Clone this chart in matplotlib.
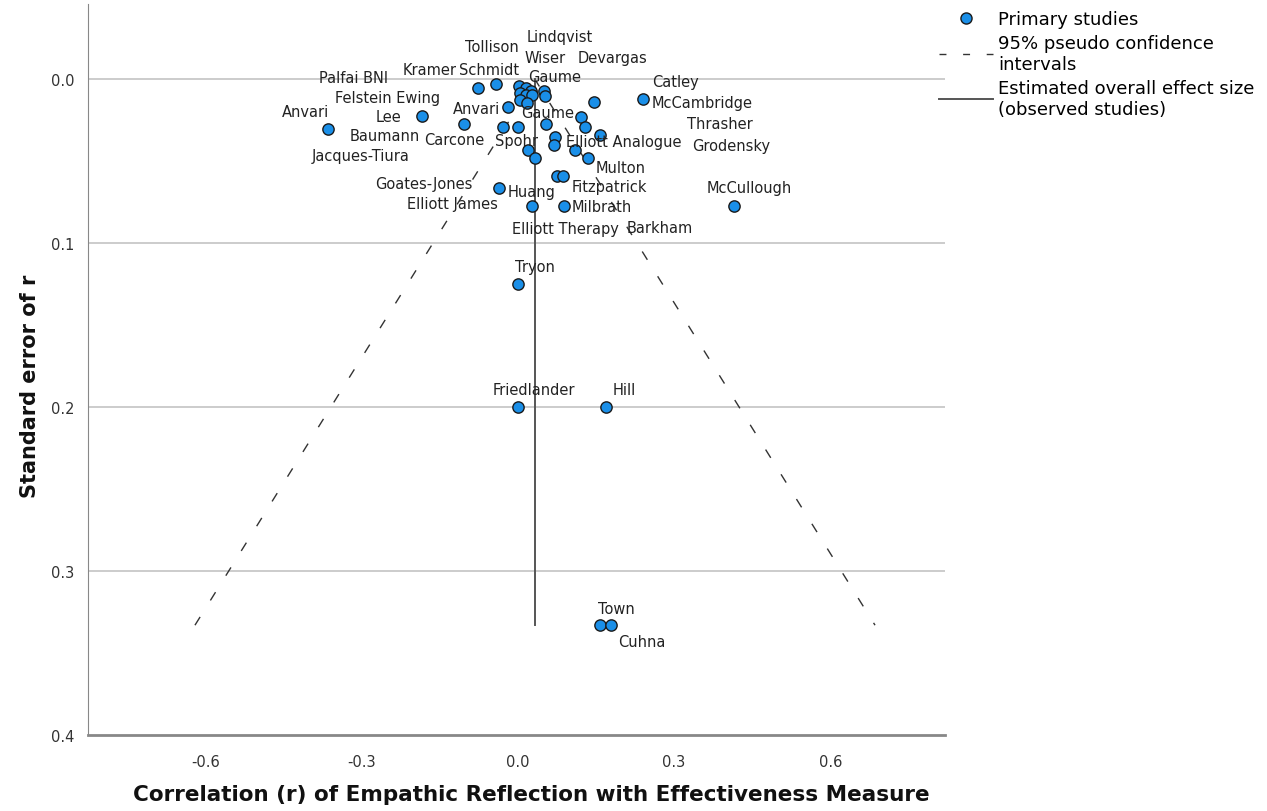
import matplotlib
matplotlib.use('Agg')
import matplotlib.pyplot as plt
from matplotlib.lines import Line2D

# study correlations (r) and their standard errors
r = [-0.365, -0.077, -0.042, -0.184, -0.104, -0.019, -0.029, 0.0, -0.036,
     0.002, 0.015, 0.025, 0.004, 0.015, 0.027, 0.004, 0.017, 0.050, 0.052,
     0.146, 0.240, 0.054, 0.121, 0.129, 0.157, 0.071, 0.069, 0.109, 0.019,
     0.033, 0.134, 0.075, 0.086, 0.027, 0.088, 0.415, 0.0, 0.0, 0.169,
     0.157, 0.179]
se = [0.0305, 0.0055, 0.003, 0.0226, 0.027, 0.017, 0.029, 0.029, 0.066,
      0.0043, 0.005, 0.0073, 0.0085, 0.0098, 0.0098, 0.0128, 0.0146, 0.0073, 0.0104,
      0.014, 0.012, 0.027, 0.023, 0.029, 0.034, 0.035, 0.040, 0.043, 0.043,
      0.048, 0.048, 0.059, 0.059, 0.077, 0.077, 0.077, 0.125, 0.200, 0.200,
      0.333, 0.333]
names = ["Anvari", "Kramer", "Tollison", "Lee", "Carcone", "Anvari", "Baumann", "Spohr", "Huang",
         "Wiser", "Lindqvist", "Schmidt", "", "Felstein Ewing", "", "Palfai BNI", "Gaume", "Devargas", "Gaume",
         "Catley", "McCambridge", "Goates-Jones", "Thrasher", "Elliott James", "Grodensky", "Elliott Analogue",
         "Barkham", "", "Jacques-Tiura", "", "Multon", "", "Fitzpatrick", "Elliott Therapy", "Milbrath",
         "McCullough", "Tryon", "Friedlander", "Hill", "Town", "Cuhna"]

# label placement (pixel offsets from the point), layout only
label_off = [(-22, 18), (-48, 19), (-4, 38), (-33, 0), (-9, -16), (-31, -1), (-118, -9), (-1, -14), (33, -4),
             (26, 29), (34, 51), (-42, 22), (0, 0), (-138, -2), (0, 0), (-166, 23), (21, -9), (69, 34), (10, 20),
             (82, 21), (59, -3), (-122, -60), (139, -6), (-133, -77), (132, -10), (69, -5),
             (106, -83), (0, 0), (-167, -6), (0, 0), (33, -9), (0, 0), (47, -10), (34, -23), (38, -1),
             (15, 18), (17, 18), (16, 18), (18, 18), (17, 17), (31, -16)]

effect = 0.033
se_max = 0.333

fig = plt.figure(figsize=(12.67, 8.12), dpi=100)
ax = fig.add_axes([88 / 1267, 1 - 736 / 812, (945 - 88) / 1267, (736 - 5) / 812])

ax.set_xlim(-0.825, 0.82)
ax.set_ylim(0.4, -0.046)

for g in [0.0, 0.1, 0.2, 0.3]:
    ax.axhline(g, color='#c8c8c8', lw=1.3, zorder=0)

# funnel
ax.plot([effect - 1.96 * se_max, effect, effect + 1.96 * se_max], [se_max, 0, se_max],
        color='#333333', lw=1, dashes=(7, 14), zorder=1)
ax.plot([effect, effect], [0, se_max], color='#555555', lw=1.4, zorder=1)

ax.scatter(r, se, s=66, color='#1a8fe8', edgecolors='#1a1a1a', linewidths=1, zorder=3)

for x, y, nm, off in zip(r, se, names, label_off):
    if nm:
        ax.annotate(nm, (x, y), xytext=off, textcoords='offset pixels',
                    ha='center', va='center', fontsize=10.5, color='#222222', zorder=4)

ax.set_xticks([-0.6, -0.3, 0.0, 0.3, 0.6])
ax.set_xticklabels(['-0.6', '-0.3', '0.0', '0.3', '0.6'])
ax.set_yticks([0.0, 0.1, 0.2, 0.3, 0.4])
ax.set_yticklabels(['0.0', '0.1', '0.2', '0.3', '0.4'])
ax.tick_params(length=0, labelsize=10.5, colors='#333333', pad=10)
ax.tick_params(axis='x', pad=14)

for s in ['top', 'right']:
    ax.spines[s].set_visible(False)
ax.spines['left'].set_color('#888888')
ax.spines['bottom'].set_color('#888888')
ax.spines['bottom'].set_linewidth(2)

lab_font = ['DejaVu Sans Condensed', 'Liberation Sans Narrow', 'DejaVu Sans']
fig.text(531 / 1267, 1 - 795 / 812, 'Correlation (r) of Empathic Reflection with Effectiveness Measure',
         ha='center', va='center', fontsize=15.5, fontweight='bold', family=lab_font, color='#111111')
fig.text(30 / 1267, 1 - 386 / 812, 'Standard error of r', rotation=90,
         ha='center', va='center', fontsize=15, fontweight='bold', family=lab_font, color='#111111')

handles = [
    Line2D([], [], ls='none', marker='o', markersize=8, markerfacecolor='#1a8fe8',
           markeredgecolor='#1a1a1a'),
    Line2D([], [], color='#333333', lw=1, dashes=(5, 12)),
    Line2D([], [], color='#555555', lw=1.4),
]
labels = ['Primary studies', '95% pseudo confidence\nintervals',
          'Estimated overall effect size\n(observed studies)']
fig.legend(handles, labels, loc='upper left', bbox_to_anchor=(928 / 1267, 1.0),
           frameon=False, fontsize=13, handlelength=3.0, handletextpad=0.3,
           labelspacing=0.35, borderaxespad=0.2)

fig.savefig('out.png', dpi=100)
